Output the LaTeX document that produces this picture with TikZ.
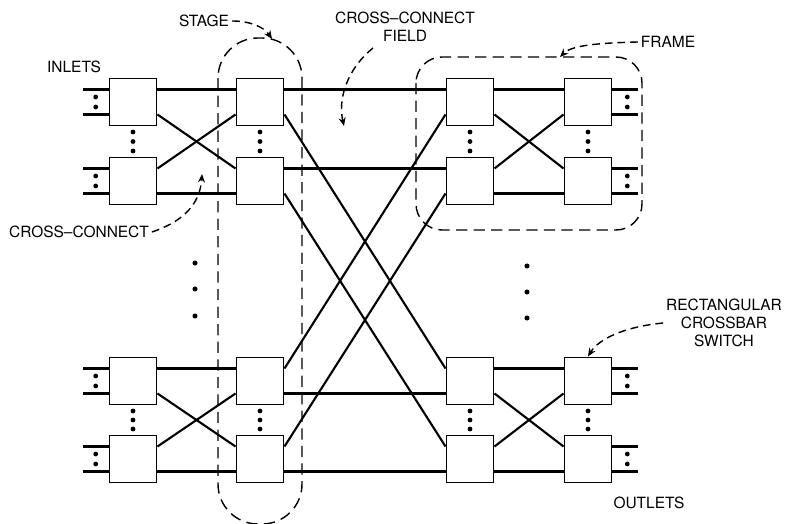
\documentclass[tikz,border=0pt]{standalone}
\usepackage{fontspec}
\setmainfont{TeX Gyre Heros}
\usetikzlibrary{arrows.meta}

\tikzset{
    xbar/.style={draw, line width=1.4pt, fill=white, minimum size=1.175cm, inner sep=0pt},
    wire/.style={line width=1.5pt},
    hull/.style={line width=1pt, dash pattern=on 8pt off 4.5pt},
    callout/.style={line width=1pt, dash pattern=on 5.5pt off 3.5pt,
        -{Stealth[length=6pt,width=5pt]}},
    lbl/.style={font=\fontsize{11}{13}\selectfont, align=center, inner sep=2pt}
}

\begin{document}
\begin{tikzpicture}[x=0.025cm, y=-0.025cm]
    \useasboundingbox (0,0) rectangle (788,524);

    \foreach \c/\x in {1/133,2/260,3/470,4/588}
        \foreach \r/\y in {a/102,b/181,c/381,d/459}{
            \node[xbar] (s\c\r) at (\x,\y) {};
            \coordinate (s\c\r-wu) at ([yshift=.3125cm]s\c\r.west);
            \coordinate (s\c\r-wl) at ([yshift=-.3125cm]s\c\r.west);
            \coordinate (s\c\r-eu) at ([yshift=.3125cm]s\c\r.east);
            \coordinate (s\c\r-el) at ([yshift=-.3125cm]s\c\r.east);
        }

    \foreach \p/\q in {1/2,3/4}
        \foreach \t/\b in {a/b,c/d}{
            \draw[wire] (s\p\t-eu) -- (s\q\t-wu);
            \draw[wire] (s\p\t-el) -- (s\q\b-wu);
            \draw[wire] (s\p\b-eu) -- (s\q\t-wl);
            \draw[wire] (s\p\b-el) -- (s\q\b-wl);
        }
    \foreach \u/\v in {s2a-eu/s3a-wu, s2a-el/s3c-wu, s2b-eu/s3b-wu, s2b-el/s3d-wu,
                       s2c-eu/s3a-wl, s2c-el/s3c-wl, s2d-eu/s3b-wl, s2d-el/s3d-wl}
        \draw[wire] (\u) -- (\v);

    \foreach \r in {a,b,c,d}{
        \draw[wire] (s1\r-wu) -- ++(-26,0);
        \draw[wire] (s1\r-wl) -- ++(-26,0);
        \draw[wire] (s4\r-eu) -- ++(25,0);
        \draw[wire] (s4\r-el) -- ++(25,0);
        \fill ([xshift=-.32cm,yshift=.125cm]s1\r.west) circle (1.7pt);
        \fill ([xshift=-.32cm,yshift=-.125cm]s1\r.west) circle (1.7pt);
        \fill ([xshift=.37cm,yshift=.125cm]s4\r.east) circle (1.7pt);
        \fill ([xshift=.37cm,yshift=-.125cm]s4\r.east) circle (1.7pt);
    }
    \foreach \x in {133,260,470,588}
        \foreach \y in {132,141.5,151,411,420,429}
            \fill (\x,\y) circle (1.7pt);
    \foreach \y in {263,289,316}
        \fill (195,\y) circle (1.8pt);
    \foreach \y in {266,292,318}
        \fill (527,\y) circle (1.8pt);

    \draw[hull, rounded corners=1cm] (218,38) rectangle (302,524);
    \draw[hull, rounded corners=0.65cm] (416,57) rectangle (642,230);

    \node[lbl] (inlets) at (74,67) {INLETS};
    \node[lbl] (outlets) at (649,503) {OUTLETS};
    \node[lbl] (stage) at (204,21) {STAGE};
    \node[lbl] (field) at (405,27) {CROSS--CONNECT\\FIELD};
    \node[lbl] (frame) at (668,42) {FRAME};
    \node[lbl] (xconn) at (79,232) {CROSS--CONNECT};
    \node[lbl] (switch) at (724,323) {RECTANGULAR\\CROSSBAR\\SWITCH};

    \coordinate (stagetip) at (272,39);
    \coordinate (fieldtail) at (373,48);
    \coordinate (fieldtip) at (344,126);
    \coordinate (frametip) at (560,57);
    \coordinate (xconntip) at (202,174);
    \draw[callout] (stage.east) .. controls (250,21) and (264,27) .. (stagetip);
    \draw[callout] (fieldtail) .. controls (346,70) and (338,100) .. (fieldtip);
    \draw[callout] (frame.west) .. controls (600,43) and (572,45) .. (frametip);
    \draw[callout] (xconn.east) .. controls (182,222) and (200,205) .. (xconntip);
    \draw[callout] (switch.west) .. controls (622,327) and (598,340) .. (s4c.north);
\end{tikzpicture}
\end{document}
